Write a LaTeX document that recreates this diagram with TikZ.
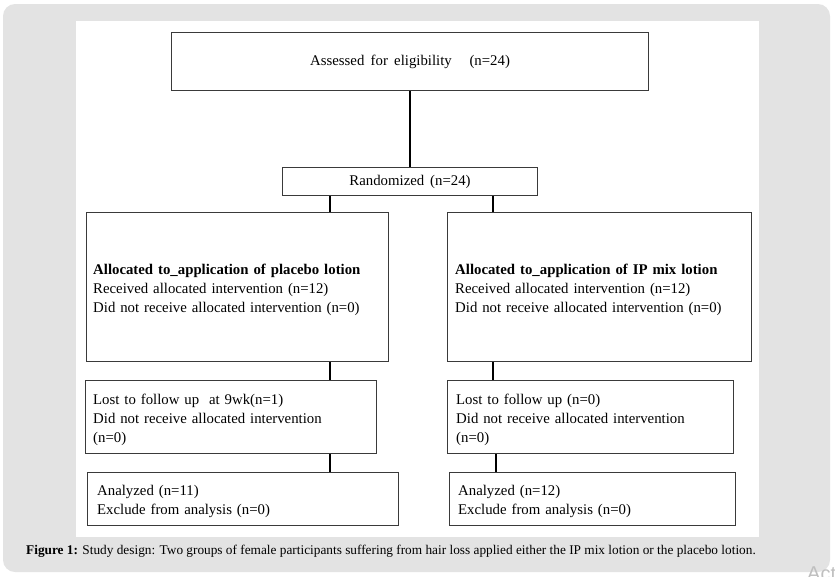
\documentclass[tikz,border=0pt]{standalone}
\usepackage{fontspec}
\setmainfont{Liberation Serif}
\newfontfamily\boxfont{Liberation Serif}[WordSpace=1.7]
\newfontfamily\wmfont{Liberation Sans}
\definecolor{bggray}{HTML}{E3E3E3}
\definecolor{boxgray}{HTML}{3A3A3A}
\begin{document}
\begin{tikzpicture}[x=1pt,y=-1pt,
  box/.style={draw=boxgray, line width=1.1pt, rectangle, anchor=north west, inner ysep=0pt,
    font=\boxfont\fontsize{14.8}{19}\selectfont, align=left},
  frame/.style={draw=boxgray, line width=1.1pt, rectangle, anchor=north west, inner sep=0pt},
  txt/.style={anchor=west, inner ysep=0pt, font=\boxfont\fontsize{14.8}{19}\selectfont, align=left},
  link/.style={line width=1.3pt, draw=black}]
\useasboundingbox (0,0) rectangle (835,576);
\fill[bggray, rounded corners=12pt] (3,4) rectangle (830,572);
\fill[white] (76,21) rectangle (759,537);

\node[box, minimum width=477pt, minimum height=58pt, align=center] (top) at (171,32)
  {Assessed for eligibility\hspace{1.2em}(n=24)};
\node[box, minimum width=255pt, minimum height=28pt, align=center] (rand) at (282,167)
  {Randomized\hspace{0.4em}(n=24)};

\node[frame, minimum width=302pt, minimum height=149pt] (la) at (86,212) {};
\node[txt, text width=288pt, inner xsep=7pt] (lat) at ([yshift=-3pt]la.west)
  {\textbf{Allocated to\_application of placebo lotion}\\Received allocated intervention (n=12)\\Did not receive allocated intervention (n=0)};
\node[frame, minimum width=304pt, minimum height=149pt] (ra) at (447,212) {};
\node[txt, text width=288pt, inner xsep=8pt] (rat) at ([yshift=-3pt]ra.west)
  {\textbf{Allocated to\_application of IP mix lotion}\\Received allocated intervention (n=12)\\Did not receive allocated intervention (n=0)};

\node[frame, minimum width=291pt, minimum height=73pt] (ll) at (85,380) {};
\node[txt, text width=275pt, inner xsep=8pt] (llt) at ([yshift=-2.5pt]ll.west)
  {Lost to follow up\ \ at 9wk(n=1)\\Did not receive allocated\ intervention\\(n=0)};
\node[frame, minimum width=286pt, minimum height=73pt] (rl) at (447,380) {};
\node[txt, text width=268pt, inner xsep=9pt] (rlt) at ([yshift=-2.5pt]rl.west)
  {Lost to follow up (n=0)\\Did not receive allocated\ intervention\\(n=0)};

\node[frame, minimum width=311pt, minimum height=53pt] (lan) at (87,472) {};
\node[txt, text width=291pt, inner xsep=10pt] (lant) at ([yshift=-2pt]lan.west)
  {Analyzed\ (n=11)\\Exclude from analysis (n=0)};
\node[frame, minimum width=286pt, minimum height=53pt] (ran) at (449,472) {};
\node[txt, text width=268pt, inner xsep=9pt] (rant) at ([yshift=-2pt]ran.west)
  {Analyzed\ (n=12)\\Exclude from analysis (n=0)};

\coordinate (lx) at (330,0);
\coordinate (rx) at (493,0);
\coordinate (rx2) at (496,0);
\draw[link] (top.south) -- (rand.north);
\draw[link] (rand.south -| lx) -- (la.north -| lx);
\draw[link] (rand.south -| rx) -- (ra.north -| rx);
\draw[link] (la.south -| lx) -- (ll.north -| lx);
\draw[link] (ll.south -| lx) -- (lan.north -| lx);
\draw[link] (ra.south -| rx) -- (rl.north -| rx);
\draw[link] (rl.south -| rx2) -- (ran.north -| rx2);

\node[anchor=west, inner sep=0pt, font=\fontsize{13.3}{15}\selectfont] (cap) at (26,551)
  {\textbf{Figure 1:} Study design: Two groups of female participants suffering from hair loss applied either the IP mix lotion or the placebo lotion.};

\node[anchor=base west, inner sep=0pt, text=black!25, font=\wmfont\fontsize{20}{20}\selectfont] (wm) at (807,580) {Act};
\end{tikzpicture}
\end{document}
